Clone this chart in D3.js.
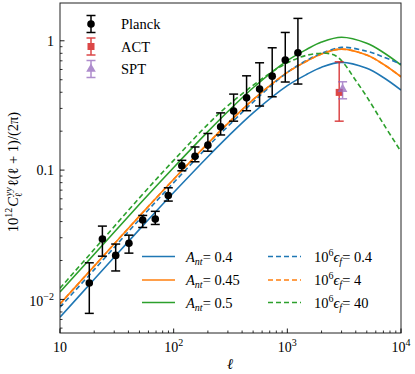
<!DOCTYPE html>
<html>
<head>
<meta charset="utf-8">
<script src="https://cdn.jsdelivr.net/npm/d3@7"></script>
<style>
  body { margin: 0; background: #fff; }
  svg text { font-family: "Liberation Serif", "DejaVu Serif", serif; fill: #000; }
</style>
</head>
<body>
<svg id="chart" width="415" height="374"></svg>
<script>
// model curves
const ells = [10, 20, 50, 100, 200, 300, 500, 1000, 1500, 2000, 3000, 5000, 7000, 10000];
const ant04  = [0.0073, 0.0143, 0.0348, 0.0671, 0.127, 0.1816, 0.2773, 0.45, 0.553, 0.625, 0.681, 0.612, 0.52, 0.416];
const ant045 = [0.00924, 0.0181, 0.0441, 0.0849, 0.1608, 0.2299, 0.3511, 0.5697, 0.700, 0.791, 0.862, 0.775, 0.658, 0.527];
const ant05  = [0.0114, 0.02234, 0.0544, 0.1048, 0.1984, 0.2838, 0.4333, 0.703, 0.864, 0.977, 1.064, 0.956, 0.8125, 0.65];
const eps04  = [0.0087, 0.0170, 0.0415, 0.080, 0.152, 0.218, 0.336, 0.57, 0.71, 0.80, 0.89, 0.83, 0.75, 0.66];
const eps4   = [0.00924, 0.0181, 0.0441, 0.0849, 0.1608, 0.2299, 0.3511, 0.5697, 0.700, 0.791, 0.862, 0.775, 0.658, 0.527];
const ellsEps40 = [10, 20, 50, 100, 200, 300, 600, 1000, 1500, 2200, 2700, 3200, 3800, 5000, 7000, 10000];
const eps40  = [0.0122, 0.0244, 0.061, 0.119, 0.226, 0.315, 0.51, 0.675, 0.775, 0.80, 0.76, 0.655, 0.527, 0.369, 0.228, 0.139];

// data points
const planckEll = [18.1, 23.6, 30.9, 40.4, 53.4, 68.9, 89.7, 118, 154, 200, 259, 337, 438, 570, 736, 959, 1239];
const planckVal = [0.0134, 0.0293, 0.0219, 0.0272, 0.0411, 0.0418, 0.0637, 0.108, 0.128, 0.156, 0.216, 0.286, 0.362, 0.423, 0.533, 0.709, 0.808];
const planckLo  = [0.0078, 0.0216, 0.0166, 0.0228, 0.036, 0.038, 0.0576, 0.0988, 0.116, 0.140, 0.187, 0.239, 0.288, 0.313, 0.369, 0.48, 0.463];
const planckHi  = [0.0192, 0.0369, 0.0268, 0.0314, 0.0446, 0.048, 0.073, 0.119, 0.151, 0.192, 0.277, 0.387, 0.536, 0.676, 0.883, 1.16, 1.49];
const actPoint = { ell: 2860, val: 0.399, lo: 0.239, hi: 0.688 };
const sptPoint = { ell: 3063, val: 0.423, lo: 0.356, hi: 0.482 };

const xTicks = [10, 100, 1000, 10000];
const xTickExp = ["", "2", "3", "4"];
const yTicks = [0.01, 0.1, 1];

const blue = "#1f77b4", orange = "#ff7f0e", green = "#2ca02c", red = "#d62728", purple = "#9467bd";

const svg = d3.select("#chart");
const m = { left: 60, right: 401, top: 3, bottom: 333 };

const x = d3.scaleLog().domain([10, 10000]).range([m.left, m.right]);
const y = d3.scaleLog().domain([0.0055, 1.96]).range([m.bottom, m.top]);

svg.append("defs").append("clipPath").attr("id", "clip")
  .append("rect").attr("x", m.left).attr("y", m.top)
  .attr("width", m.right - m.left).attr("height", m.bottom - m.top);

const plot = svg.append("g").attr("clip-path", "url(#clip)");

const line = d3.line()
  .x(d => x(d[0])).y(d => y(d[1]))
  .curve(d3.curveCatmullRom.alpha(0.5));

const curves = [
  { e: ells, v: ant04, c: blue, dash: null },
  { e: ells, v: ant045, c: orange, dash: null },
  { e: ells, v: ant05, c: green, dash: null },
  { e: ells, v: eps04, c: blue, dash: "5,3" },
  { e: ells, v: eps4, c: orange, dash: "5,3" },
  { e: ellsEps40, v: eps40, c: green, dash: "5,3" }
];
curves.forEach(cv => {
  plot.append("path")
    .datum(cv.e.map((l, i) => [l, cv.v[i]]))
    .attr("d", line)
    .attr("fill", "none")
    .attr("stroke", cv.c)
    .attr("stroke-width", 1.6)
    .attr("stroke-dasharray", cv.dash);
});

// error bars
function errorBar(g, cx, ylo, yhi, color, cap) {
  g.append("line").attr("x1", cx).attr("x2", cx).attr("y1", ylo).attr("y2", yhi)
    .attr("stroke", color).attr("stroke-width", 1.5);
  [ylo, yhi].forEach(yy => g.append("line")
    .attr("x1", cx - cap).attr("x2", cx + cap).attr("y1", yy).attr("y2", yy)
    .attr("stroke", color).attr("stroke-width", 1.5));
}

planckEll.forEach((l, i) => {
  errorBar(plot, x(l), y(planckLo[i]), y(planckHi[i]), "#000", 4.5);
  plot.append("circle").attr("cx", x(l)).attr("cy", y(planckVal[i])).attr("r", 3.8).attr("fill", "#000");
});

const actG = plot.append("g").attr("opacity", 0.85);
errorBar(actG, x(actPoint.ell), y(actPoint.lo), y(actPoint.hi), red, 4.5);
actG.append("rect").attr("x", x(actPoint.ell) - 3.5).attr("y", y(actPoint.val) - 3.5)
  .attr("width", 7).attr("height", 7).attr("fill", red);

const sptG = plot.append("g").attr("opacity", 0.75);
errorBar(sptG, x(sptPoint.ell), y(sptPoint.lo), y(sptPoint.hi), purple, 4.5);
sptG.append("path").attr("transform", `translate(${x(sptPoint.ell)},${y(sptPoint.val)})`)
  .attr("d", d3.symbol(d3.symbolTriangle, 40)).attr("fill", purple);

// axes frame
svg.append("rect").attr("x", m.left).attr("y", m.top)
  .attr("width", m.right - m.left).attr("height", m.bottom - m.top)
  .attr("fill", "none").attr("stroke", "#222").attr("stroke-width", 1);

// x ticks (inward)
const xMinor = [];
for (let d = 10; d < 10000; d *= 10) for (let k = 2; k <= 9; k++) xMinor.push(d * k);
xMinor.forEach(t => svg.append("line").attr("x1", x(t)).attr("x2", x(t))
  .attr("y1", m.bottom).attr("y2", m.bottom - 2.5).attr("stroke", "#000").attr("stroke-width", 0.8));
xTicks.forEach((t, i) => {
  svg.append("line").attr("x1", x(t)).attr("x2", x(t))
    .attr("y1", m.bottom).attr("y2", m.bottom - 4.5).attr("stroke", "#000").attr("stroke-width", 0.9);
  const tx = svg.append("text").attr("x", x(t)).attr("y", 352)
    .attr("text-anchor", "middle").attr("font-size", 14).text("10");
  if (xTickExp[i]) tx.append("tspan").attr("dy", -6).attr("font-size", 10).text(xTickExp[i]);
});

// y ticks
const yMinor = [];
for (let d = 0.001; d < 2; d *= 10) for (let k = 2; k <= 9; k++) {
  const v = d * k;
  if (v > 0.0055 && v < 1.96) yMinor.push(v);
}
yMinor.forEach(t => svg.append("line").attr("x1", m.left).attr("x2", m.left + 2.5)
  .attr("y1", y(t)).attr("y2", y(t)).attr("stroke", "#000").attr("stroke-width", 0.8));
yTicks.forEach(t => svg.append("line").attr("x1", m.left).attr("x2", m.left + 4.5)
  .attr("y1", y(t)).attr("y2", y(t)).attr("stroke", "#000").attr("stroke-width", 0.9));
svg.append("text").attr("x", 54).attr("y", y(1) + 5).attr("text-anchor", "end").attr("font-size", 14).text("1");
svg.append("text").attr("x", 54).attr("y", y(0.1) + 5).attr("text-anchor", "end").attr("font-size", 14).text("0.1");
const ym2 = svg.append("text").attr("x", 54).attr("y", y(0.01) + 7).attr("text-anchor", "end").attr("font-size", 14);
ym2.append("tspan").text("10");
ym2.append("tspan").attr("dy", -6).attr("font-size", 10).text("\u22122");

// axis labels
svg.append("text").attr("x", 230).attr("y", 369).attr("text-anchor", "middle")
  .attr("font-size", 15).attr("font-style", "italic").text("\u2113");

const yl = svg.append("text").attr("transform", "translate(18,172) rotate(-90)")
  .attr("text-anchor", "middle").attr("font-size", 14.5);
yl.append("tspan").text("10");
yl.append("tspan").attr("dy", -6).attr("font-size", 10).text("12");
yl.append("tspan").attr("dy", 6).attr("dx", 1).attr("font-style", "italic").text("C");
yl.append("tspan").attr("dy", 4).attr("font-size", 10).text("\u2113");
yl.append("tspan").attr("dy", -10).attr("dx", -4).attr("font-size", 10).attr("font-style", "italic").text("yy");
yl.append("tspan").attr("dy", 6).attr("dx", 1).text("\u2113(\u2113 + 1)/(2\u03c0)");

// top-left legend
const legTop = svg.append("g");
const legRows = [
  { name: "Planck", color: "#000", sym: "circle", yy: 24, op: 1 },
  { name: "ACT", color: red, sym: "square", yy: 46.5, op: 0.85 },
  { name: "SPT", color: purple, sym: "triangle", yy: 69, op: 0.75 }
];
legRows.forEach(r => {
  const g = legTop.append("g").attr("opacity", r.op);
  errorBar(g, 91, r.yy + 8.5, r.yy - 8.5, r.color, 4.5);
  if (r.sym === "circle") g.append("circle").attr("cx", 91).attr("cy", r.yy).attr("r", 3.8).attr("fill", r.color);
  else if (r.sym === "square") g.append("rect").attr("x", 87.5).attr("y", r.yy - 3.5).attr("width", 7).attr("height", 7).attr("fill", r.color);
  else g.append("path").attr("transform", `translate(91,${r.yy})`).attr("d", d3.symbol(d3.symbolTriangle, 40)).attr("fill", r.color);
  legTop.append("text").attr("x", 121).attr("y", r.yy + 5).attr("font-size", 14.5).text(r.name);
});

// bottom legend
const legBot = svg.append("g");
const antLabels = ["0.4", "0.45", "0.5"];
const epsLabels = ["0.4", "4", "40"];
const legColors = [blue, orange, green];
const rowsY = [256.5, 280, 302.5];
rowsY.forEach((ry, i) => {
  legBot.append("line").attr("x1", 142).attr("x2", 175).attr("y1", ry).attr("y2", ry)
    .attr("stroke", legColors[i]).attr("stroke-width", 1.6);
  const t1 = legBot.append("text").attr("x", 186).attr("y", ry + 5).attr("font-size", 14.5);
  t1.append("tspan").attr("font-style", "italic").text("A");
  t1.append("tspan").attr("dy", 3).attr("font-size", 10).attr("font-style", "italic").text("nt");
  t1.append("tspan").attr("dy", -3).text("= " + antLabels[i]);

  legBot.append("line").attr("x1", 268).attr("x2", 301).attr("y1", ry).attr("y2", ry)
    .attr("stroke", legColors[i]).attr("stroke-width", 1.6).attr("stroke-dasharray", "5,3");
  const t2 = legBot.append("text").attr("x", 314).attr("y", ry + 5).attr("font-size", 14.5);
  t2.append("tspan").text("10");
  t2.append("tspan").attr("dy", -6).attr("font-size", 10).text("6");
  t2.append("tspan").attr("dy", 6).attr("font-style", "italic").text("\u03f5");
  t2.append("tspan").attr("dy", 3).attr("font-size", 10).attr("font-style", "italic").text("f");
  t2.append("tspan").attr("dy", -3).text("= " + epsLabels[i]);
});
</script>
</body>
</html>
